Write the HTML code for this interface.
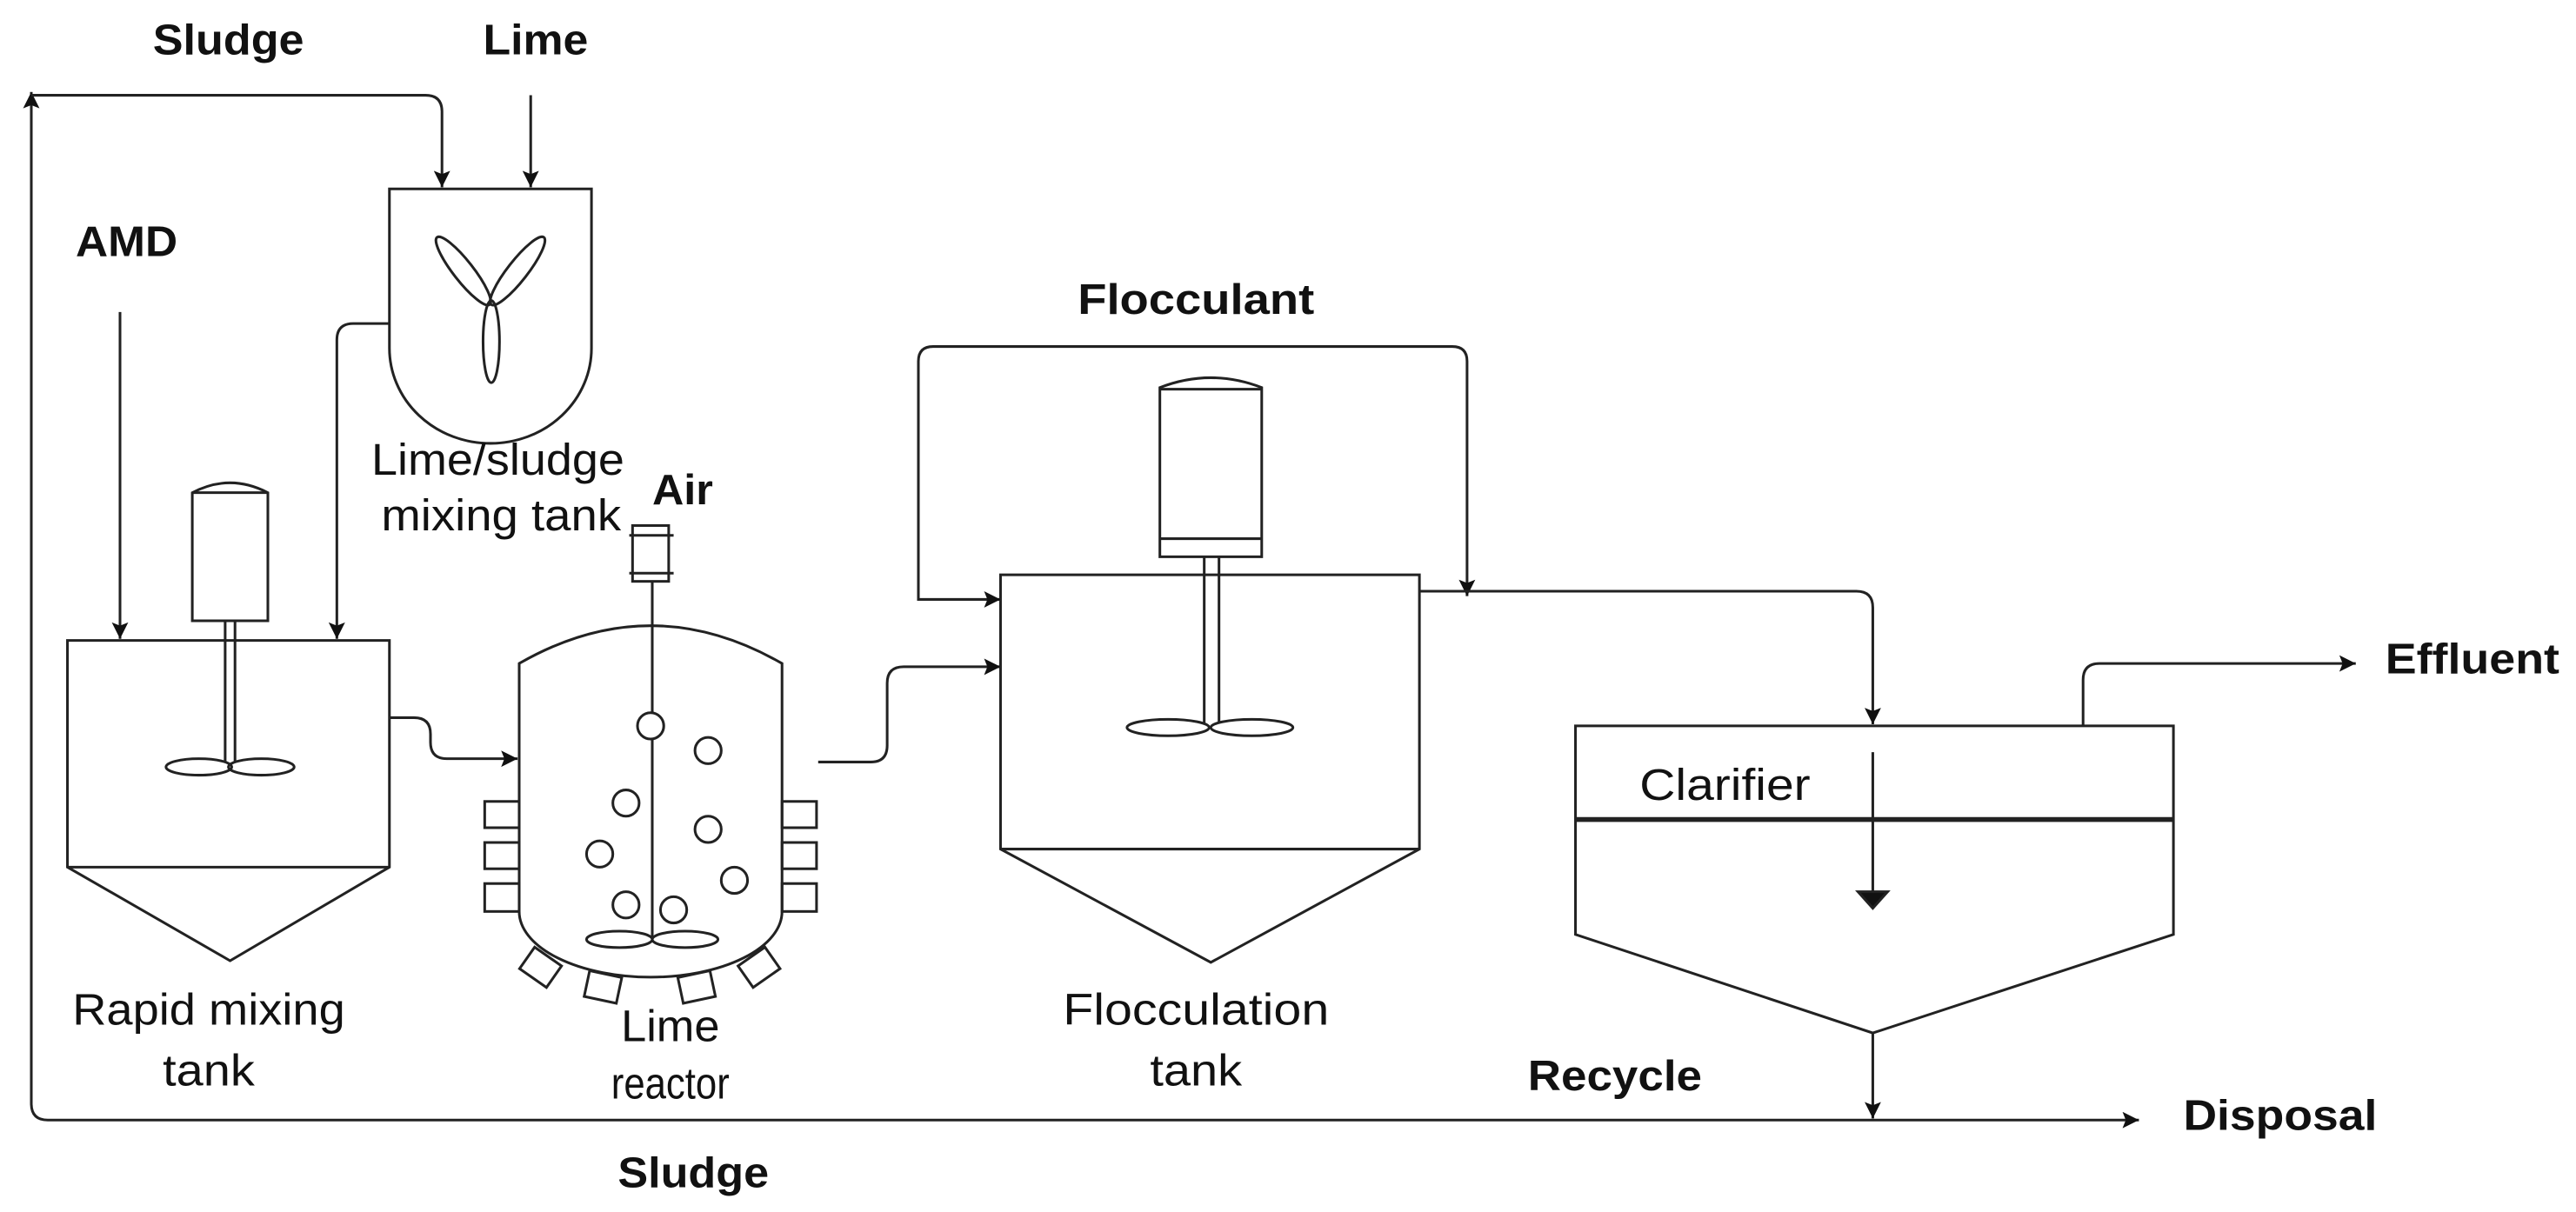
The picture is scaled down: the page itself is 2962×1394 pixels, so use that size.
<!DOCTYPE html>
<html><head><meta charset="utf-8"><style>html,body{margin:0;padding:0;background:#fff}svg{display:block}</style></head>
<body>
<svg width="2962" height="1394" viewBox="0 0 1568 738" xmlns="http://www.w3.org/2000/svg">
<defs>
<marker id="a" viewBox="0 0 10 10" refX="10" refY="5" markerWidth="11" markerHeight="10" markerUnits="userSpaceOnUse" orient="auto"><path d="M0,0 L10,5 L0,10 L2,5 z" fill="#111"/></marker>
</defs>
<g fill="none" stroke="#222" stroke-width="1.6">
<path d="M19,62 V672 Q19,682 29,682 H1302" marker-end="url(#a)"/>
<path d="M19,70 V56" marker-end="url(#a)"/>
<path d="M19,58 H259 Q269,58 269,68 V114" marker-end="url(#a)"/>
<path d="M323,58 V114" marker-end="url(#a)"/>
<path d="M237,115 H360 V212 A61.5,58 0 0 1 237,212 Z"/>
<ellipse cx="282" cy="165" rx="6" ry="26" transform="rotate(-38 282 165)"/>
<ellipse cx="315" cy="165" rx="6" ry="26" transform="rotate(38 315 165)"/>
<ellipse cx="299" cy="208" rx="5" ry="25"/>
<path d="M237,197 H215 Q205,197 205,207 V389" marker-end="url(#a)"/>
<path d="M73,190 V389" marker-end="url(#a)"/>
<path d="M41,390 H237 V528 L140,585 L41,528 Z"/>
<path d="M41,528 H237"/>
<path d="M117,378 V300 Q140,288 163,300 V378 Z"/>
<path d="M117,300 H163"/>
<path d="M137,378 V464 M143,378 V464"/>
<ellipse cx="121" cy="467" rx="20" ry="5"/>
<ellipse cx="159" cy="467" rx="20" ry="5"/>
<path d="M237,437 H252 Q262,437 262,447 V452 Q262,462 272,462 H315" marker-end="url(#a)"/>
<path d="M316,404 Q396,358 476,404 V555 A80,40 0 0 1 316,555 Z"/>
<rect x="385" y="320" width="22" height="34"/>
<path d="M383,326 H410 M383,349 H410"/>
<path d="M397,354 V434 M397,450 V572"/>
<ellipse cx="377" cy="572" rx="20" ry="5"/>
<ellipse cx="417" cy="572" rx="20" ry="5"/>
<circle cx="396" cy="442" r="8"/>
<circle cx="431" cy="457" r="8"/>
<circle cx="381" cy="489" r="8"/>
<circle cx="431" cy="505" r="8"/>
<circle cx="365" cy="520" r="8"/>
<circle cx="447" cy="536" r="8"/>
<circle cx="381" cy="551" r="8"/>
<circle cx="410" cy="554" r="8"/>
<rect x="295" y="488" width="21" height="16"/><rect x="295" y="513" width="21" height="16"/><rect x="295" y="538" width="21" height="17"/>
<rect x="476" y="488" width="21" height="16"/><rect x="476" y="513" width="21" height="16"/><rect x="476" y="538" width="21" height="17"/>
<rect x="-10" y="-8" width="20" height="16" transform="translate(329,589) rotate(35)"/>
<rect x="-10" y="-8" width="20" height="16" transform="translate(367,601) rotate(12)"/>
<rect x="-10" y="-8" width="20" height="16" transform="translate(424,601) rotate(-12)"/>
<rect x="-10" y="-8" width="20" height="16" transform="translate(462,589) rotate(-35)"/>
<path d="M498,464 H530 Q540,464 540,454 V416 Q540,406 550,406 H609" marker-end="url(#a)"/>
<path d="M609,350 H864 V517 L737,586 L609,517 Z"/>
<path d="M609,517 H864"/>
<path d="M706,339 V236 Q737,224 768,236 V339 Z"/>
<path d="M706,237 H768 M706,328 H768"/>
<path d="M733,339 V440 M742,339 V440"/>
<ellipse cx="711" cy="443" rx="25" ry="5"/>
<ellipse cx="762" cy="443" rx="25" ry="5"/>
<path d="M893,220 Q893,211 884,211 H568 Q559,211 559,220 V365 H609" marker-end="url(#a)"/>
<path d="M893,220 V363" marker-end="url(#a)"/>
<path d="M864,360 H1130 Q1140,360 1140,370 V441" marker-end="url(#a)"/>
<path d="M959,442 H1323 V569 L1140,629 L959,569 Z"/>
<path d="M959,499 H1323" stroke-width="3"/>
<path d="M1140,458 V545"/>
<path d="M1131,543 H1149 L1140,553 Z" fill="#111"/>
<path d="M1268,442 V414 Q1268,404 1278,404 H1434" marker-end="url(#a)"/>
<path d="M1140,629 V681" marker-end="url(#a)"/>
</g>
<g font-family="Liberation Sans, sans-serif" fill="#111">
<g font-weight="bold" font-size="26">
<text x="93" y="33" textLength="92" lengthAdjust="spacingAndGlyphs">Sludge</text>
<text x="294" y="33" textLength="64" lengthAdjust="spacingAndGlyphs">Lime</text>
<text x="46" y="156" textLength="62" lengthAdjust="spacingAndGlyphs">AMD</text>
<text x="656" y="191" textLength="144" lengthAdjust="spacingAndGlyphs">Flocculant</text>
<text x="397" y="307" textLength="37" lengthAdjust="spacingAndGlyphs">Air</text>
<text x="1452" y="410" textLength="106" lengthAdjust="spacingAndGlyphs">Effluent</text>
<text x="930" y="664" textLength="106" lengthAdjust="spacingAndGlyphs">Recycle</text>
<text x="1329" y="688" textLength="118" lengthAdjust="spacingAndGlyphs">Disposal</text>
<text x="376" y="723" textLength="92" lengthAdjust="spacingAndGlyphs">Sludge</text>
</g>
<g font-size="27" text-anchor="middle">
<text x="303" y="289" textLength="154" lengthAdjust="spacingAndGlyphs">Lime/sludge</text>
<text x="305" y="323" textLength="146" lengthAdjust="spacingAndGlyphs">mixing tank</text>
<text x="127" y="624" textLength="166" lengthAdjust="spacingAndGlyphs">Rapid mixing</text>
<text x="127" y="661" textLength="56" lengthAdjust="spacingAndGlyphs">tank</text>
<text x="408" y="634" textLength="60" lengthAdjust="spacingAndGlyphs">Lime</text>
<text x="408" y="669" textLength="72" lengthAdjust="spacingAndGlyphs">reactor</text>
<text x="728" y="624" textLength="162" lengthAdjust="spacingAndGlyphs">Flocculation</text>
<text x="728" y="661" textLength="56" lengthAdjust="spacingAndGlyphs">tank</text>
<text x="1050" y="487" textLength="104" lengthAdjust="spacingAndGlyphs">Clarifier</text>
</g>
</g>
</svg>
</body></html>
